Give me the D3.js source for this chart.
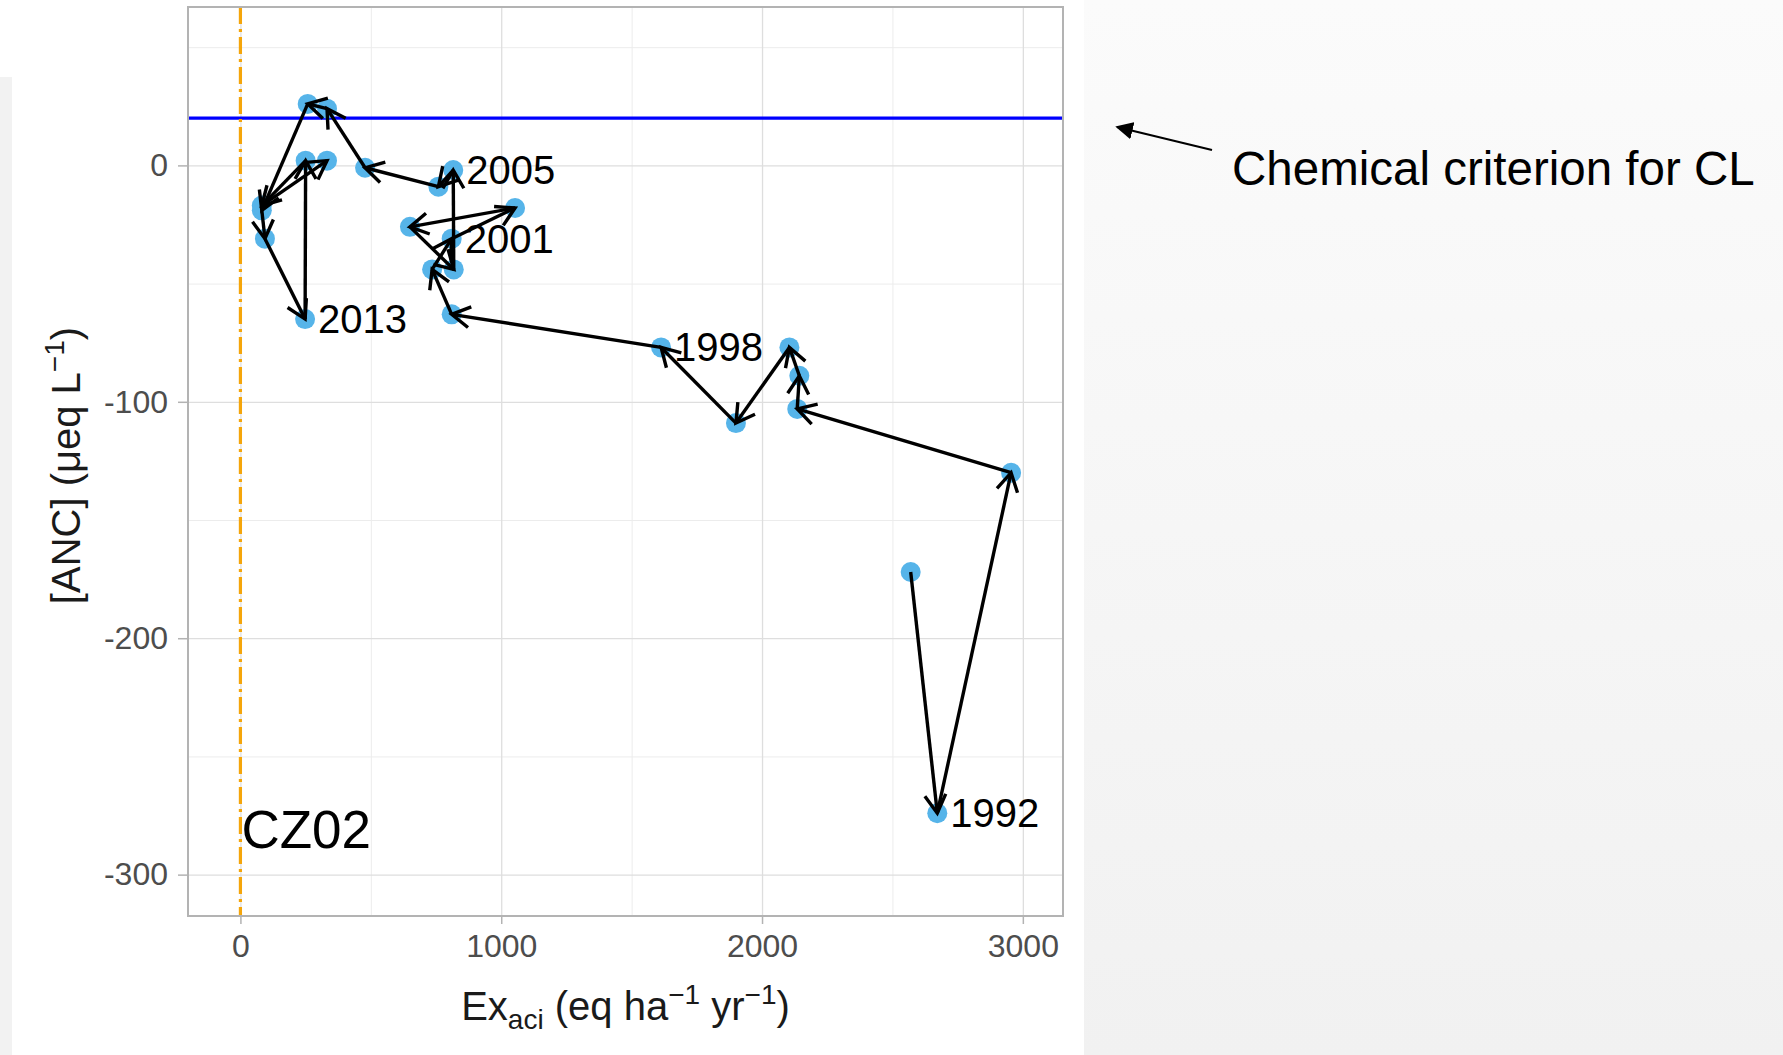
<!DOCTYPE html>
<meta charset="utf-8">
<style>
body { margin: 0; padding: 0; background: #fff; }
svg { display: block; font-family: "Liberation Sans", Arial, sans-serif; }
.grid-major line { stroke: #dedede; stroke-width: 1.3px; }
.grid-minor line { stroke: #ececec; stroke-width: 1px; }
.grid-major path, .grid-minor path { display: none; }
.axis path { display: none; }
.axis line { stroke: #b3b3b3; stroke-width: 1.5px; }
.axis text { fill: #4d4d4d; font-size: 32px; font-family: "Liberation Sans", Arial, sans-serif; }
.segment { fill: none; stroke: #000; stroke-width: 3.4px; }
.point { fill: #56b4e9; }
.year { font-size: 40px; fill: #000; }
</style>
<body>
<script src="https://cdn.jsdelivr.net/npm/d3@7"></script>
<script>
// one point per year, plotted in order (1991 .. 2016, no 2012)
var years = [1991, 1992, 1993, 1994, 1995, 1996, 1997, 1998, 1999, 2000, 2001, 2002, 2003,
             2004, 2005, 2006, 2007, 2008, 2009, 2010, 2011, 2013, 2014, 2015, 2016];
var exaci = [2570, 2672, 2955, 2135, 2143, 2105, 1900, 1613, 810, 735, 810, 1053, 650,
             818, 816, 759, 478, 332, 258, 82, 94, 248, 250, 82, 332];
var anc   = [-172, -274, -130, -103, -89, -77, -109, -77, -63, -44, -31, -18, -26,
             -44, -2, -9, -1, 24, 26, -19, -31, -65, 2, -17, 2];
var labelYears = [1992, 1998, 2001, 2005, 2013];
var criterion = 20;      // chemical criterion, µeq/L
var xTicks = [0, 1000, 2000, 3000];
var xMinor = [500, 1500, 2500];
var yTicks = [0, -100, -200, -300];
var yMinor = [50, -50, -150, -250];
var siteName = "CZ02";
var noteText = "Chemical criterion for CL";

var width = 1783, height = 1055;
var panel = {left: 188, right: 1063, top: 7, bottom: 916};

var x = d3.scaleLinear().domain([-201, 3154]).range([panel.left, panel.right]);
var y = d3.scaleLinear().domain([-317.5, 67]).range([panel.bottom, panel.top]);

var svg = d3.select("body").append("svg")
    .attr("width", width)
    .attr("height", height);

var defs = svg.append("defs");
var grad = defs.append("linearGradient")
    .attr("id", "side")
    .attr("x1", 0).attr("y1", 0).attr("x2", 0).attr("y2", 1);
grad.append("stop").attr("offset", "0%").attr("stop-color", "#fbfbfb");
grad.append("stop").attr("offset", "100%").attr("stop-color", "#f1f1f1");
defs.append("marker")
    .attr("id", "tri")
    .attr("viewBox", "0 0 10 10")
    .attr("refX", 9).attr("refY", 5)
    .attr("markerWidth", 8).attr("markerHeight", 8)
    .attr("markerUnits", "strokeWidth")
    .attr("orient", "auto")
  .append("path")
    .attr("d", "M0,0L10,5L0,10z")
    .attr("fill", "#000");

// slide background
svg.append("rect").attr("x", 1084).attr("y", 0).attr("width", width - 1084).attr("height", height)
    .attr("fill", "url(#side)");
svg.append("rect").attr("x", 0).attr("y", 77).attr("width", 12).attr("height", height - 77)
    .attr("fill", "#f2f2f2");

// panel grid
svg.append("g").attr("class", "grid-minor")
    .attr("transform", "translate(0," + panel.bottom + ")")
    .call(d3.axisBottom(x).tickValues(xMinor).tickSize(-(panel.bottom - panel.top)).tickFormat(""));
svg.append("g").attr("class", "grid-minor")
    .attr("transform", "translate(" + panel.left + ",0)")
    .call(d3.axisLeft(y).tickValues(yMinor).tickSize(-(panel.right - panel.left)).tickFormat(""));
svg.append("g").attr("class", "grid-major")
    .attr("transform", "translate(0," + panel.bottom + ")")
    .call(d3.axisBottom(x).tickValues(xTicks).tickSize(-(panel.bottom - panel.top)).tickFormat(""));
svg.append("g").attr("class", "grid-major")
    .attr("transform", "translate(" + panel.left + ",0)")
    .call(d3.axisLeft(y).tickValues(yTicks).tickSize(-(panel.right - panel.left)).tickFormat(""));

// axes
svg.append("g").attr("class", "axis")
    .attr("transform", "translate(0," + panel.bottom + ")")
    .call(d3.axisBottom(x).tickValues(xTicks).tickSize(8).tickPadding(10).tickFormat(d3.format("d")));
svg.append("g").attr("class", "axis")
    .attr("transform", "translate(" + panel.left + ",0)")
    .call(d3.axisLeft(y).tickValues(yTicks).tickSize(10).tickPadding(10).tickFormat(function(d) { return d < 0 ? "-" + (-d) : d; }));

// reference lines
svg.append("line")
    .attr("x1", panel.left).attr("x2", panel.right)
    .attr("y1", y(criterion)).attr("y2", y(criterion))
    .attr("stroke", "#0000ff").attr("stroke-width", 3.2);
svg.append("line")
    .attr("x1", x(0)).attr("x2", x(0))
    .attr("y1", panel.top).attr("y2", panel.bottom)
    .attr("stroke", "#f5a50a").attr("stroke-width", 3.2)
    .attr("stroke-dasharray", "17 5 3 5");

// points
var data = years.map(function(yr, i) { return {year: yr, ex: exaci[i], anc: anc[i]}; });
svg.append("g").selectAll("circle")
    .data(data)
  .enter().append("circle")
    .attr("class", "point")
    .attr("cx", function(d) { return x(d.ex); })
    .attr("cy", function(d) { return y(d.anc); })
    .attr("r", 10);

// year-to-year arrows
var head = 21, ang = Math.PI / 6;
var pairs = d3.pairs(data);
var arrows = svg.append("g").selectAll("g").data(pairs).enter().append("g");
arrows.append("path")
    .attr("class", "segment")
    .attr("d", function(p) {
      return "M" + x(p[0].ex) + "," + y(p[0].anc) + "L" + x(p[1].ex) + "," + y(p[1].anc);
    });
arrows.append("path")
    .attr("class", "segment")
    .attr("d", function(p) {
      var x0 = x(p[0].ex), y0 = y(p[0].anc), x1 = x(p[1].ex), y1 = y(p[1].anc);
      var t = Math.atan2(y1 - y0, x1 - x0);
      return "M" + (x1 - head * Math.cos(t - ang)) + "," + (y1 - head * Math.sin(t - ang)) +
             "L" + x1 + "," + y1 +
             "L" + (x1 - head * Math.cos(t + ang)) + "," + (y1 - head * Math.sin(t + ang));
    });

// year labels
svg.append("g").selectAll("text")
    .data(data.filter(function(d) { return labelYears.indexOf(d.year) >= 0; }))
  .enter().append("text")
    .attr("class", "year")
    .attr("x", function(d) { return x(d.ex) + 13; })
    .attr("y", function(d) { return y(d.anc) + 14; })
    .text(function(d) { return d.year; });

svg.append("text")
    .attr("x", x(0) + 1).attr("y", 848)
    .attr("font-size", 53).attr("fill", "#000")
    .text(siteName);

// panel border
svg.append("rect")
    .attr("x", panel.left).attr("y", panel.top)
    .attr("width", panel.right - panel.left).attr("height", panel.bottom - panel.top)
    .attr("fill", "none").attr("stroke", "#b3b3b3").attr("stroke-width", 2);

// axis titles
var xt = svg.append("text")
    .attr("x", (panel.left + panel.right) / 2).attr("y", 1020)
    .attr("text-anchor", "middle").attr("font-size", 40).attr("fill", "#1a1a1a");
xt.append("tspan").text("Ex");
xt.append("tspan").attr("font-size", 28).attr("dy", 9).text("aci");
xt.append("tspan").attr("dy", -9).text(" (eq ha");
xt.append("tspan").attr("font-size", 28).attr("dy", -16).text("\u22121");
xt.append("tspan").attr("dy", 16).text(" yr");
xt.append("tspan").attr("font-size", 28).attr("dy", -16).text("\u22121");
xt.append("tspan").attr("dy", 16).text(")");

var yt = svg.append("text")
    .attr("transform", "translate(80," + ((panel.top + panel.bottom) / 2 + 4) + ") rotate(-90)")
    .attr("text-anchor", "middle").attr("font-size", 40).attr("fill", "#1a1a1a");
yt.append("tspan").text("[ANC] (\u03bceq L");
yt.append("tspan").attr("font-size", 28).attr("dy", -16).text("\u22121");
yt.append("tspan").attr("dy", 16).text(")");

// note on the right
svg.append("line")
    .attr("x1", 1212).attr("y1", 150).attr("x2", 1117).attr("y2", 127)
    .attr("stroke", "#000").attr("stroke-width", 2.2)
    .attr("marker-end", "url(#tri)");
svg.append("text")
    .attr("x", 1232).attr("y", 185)
    .attr("font-size", 47.5).attr("fill", "#000")
    .text(noteText);
</script>
